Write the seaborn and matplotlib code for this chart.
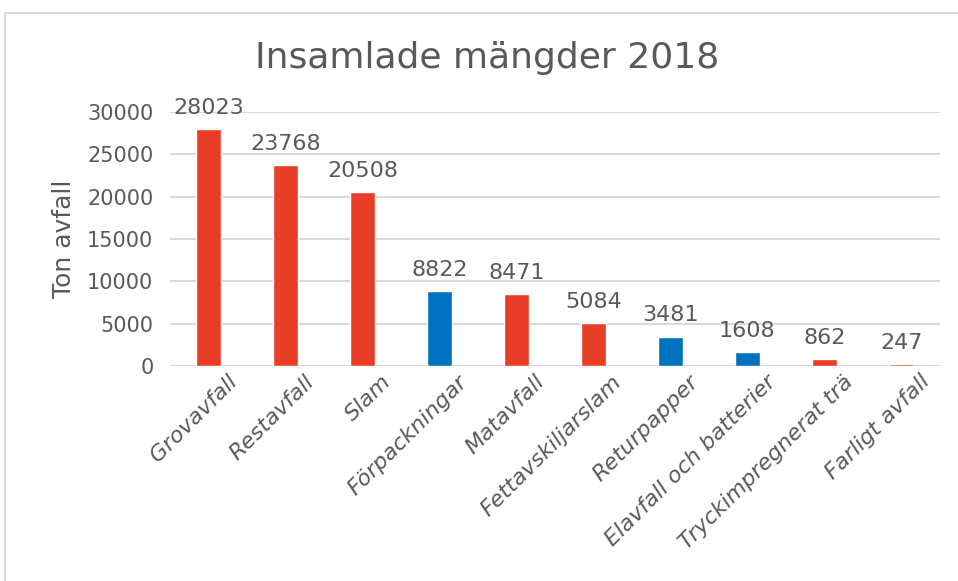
import seaborn as sns
import pandas as pd
import matplotlib.pyplot as plt
import matplotlib.transforms as mtransforms
from matplotlib.patches import Rectangle

# Insamlade mängder 2018 (ton)
kategorier = ["Grovavfall", "Restavfall", "Slam", "Förpackningar", "Matavfall",
              "Fettavskiljarslam", "Returpapper", "Elavfall och batterier",
              "Tryckimpregnerat trä", "Farligt avfall"]
ton = [28023, 23768, 20508, 8822, 8471, 5084, 3481, 1608, 862, 247]
grupp = ["kommun", "kommun", "kommun", "producent", "kommun",
         "kommun", "producent", "producent", "kommun", "kommun"]

df = pd.DataFrame({"kategori": kategorier, "ton": ton, "grupp": grupp})
farger = {"kommun": "#E83D26", "producent": "#0070C0"}
textfarg = "#595959"

sns.set_style("white")
plt.rcParams["font.family"] = ["DejaVu Sans"]

fig = plt.figure(figsize=(9.58, 5.81), dpi=100)
ax = fig.add_axes([0.1775, 0.370, 0.8035, 0.437])

sns.barplot(data=df, x="kategori", y="ton", hue="grupp", palette=farger,
            dodge=False, width=0.32, saturation=1, legend=False, ax=ax)

ax.set_ylim(0, 30000)
ax.set_yticks(range(0, 30001, 5000))
ax.yaxis.grid(True, color="#D9D9D9", linewidth=1.5)
ax.set_axisbelow(True)
for s in ax.spines.values():
    s.set_visible(False)
ax.tick_params(axis="both", length=0, colors=textfarg, labelsize=15)
ax.tick_params(axis="y", pad=12)
ax.tick_params(axis="x", pad=4)
ax.set_xlabel("")
ax.set_ylabel("Ton avfall", fontsize=18, color=textfarg, labelpad=8)

# Excel-style: the end of each slanted label sits a bit right of its tick
skift = mtransforms.ScaledTranslation(0.18, 0, fig.dpi_scale_trans)
for lbl in ax.get_xticklabels():
    lbl.set_rotation(45)
    lbl.set_ha("right")
    lbl.set_rotation_mode("anchor")
    lbl.set_style("italic")
    lbl.set_fontsize(16)
    lbl.set_transform(lbl.get_transform() + skift)

for i, v in enumerate(ton):
    ax.annotate(str(v), (i, v), xytext=(0, 8), textcoords="offset points",
                ha="center", va="bottom", fontsize=16, color=textfarg)

fig.text(0.509, 0.9, "Insamlade mängder 2018", ha="center", va="center",
         fontsize=26, color=textfarg)

fig.patches.append(Rectangle((5 / 958, -0.01), 1.0, 1 - 13 / 581 + 0.01,
                             transform=fig.transFigure, fill=False,
                             edgecolor="#D9D9D9", linewidth=1.5))

fig.savefig("out.png", dpi=100)
